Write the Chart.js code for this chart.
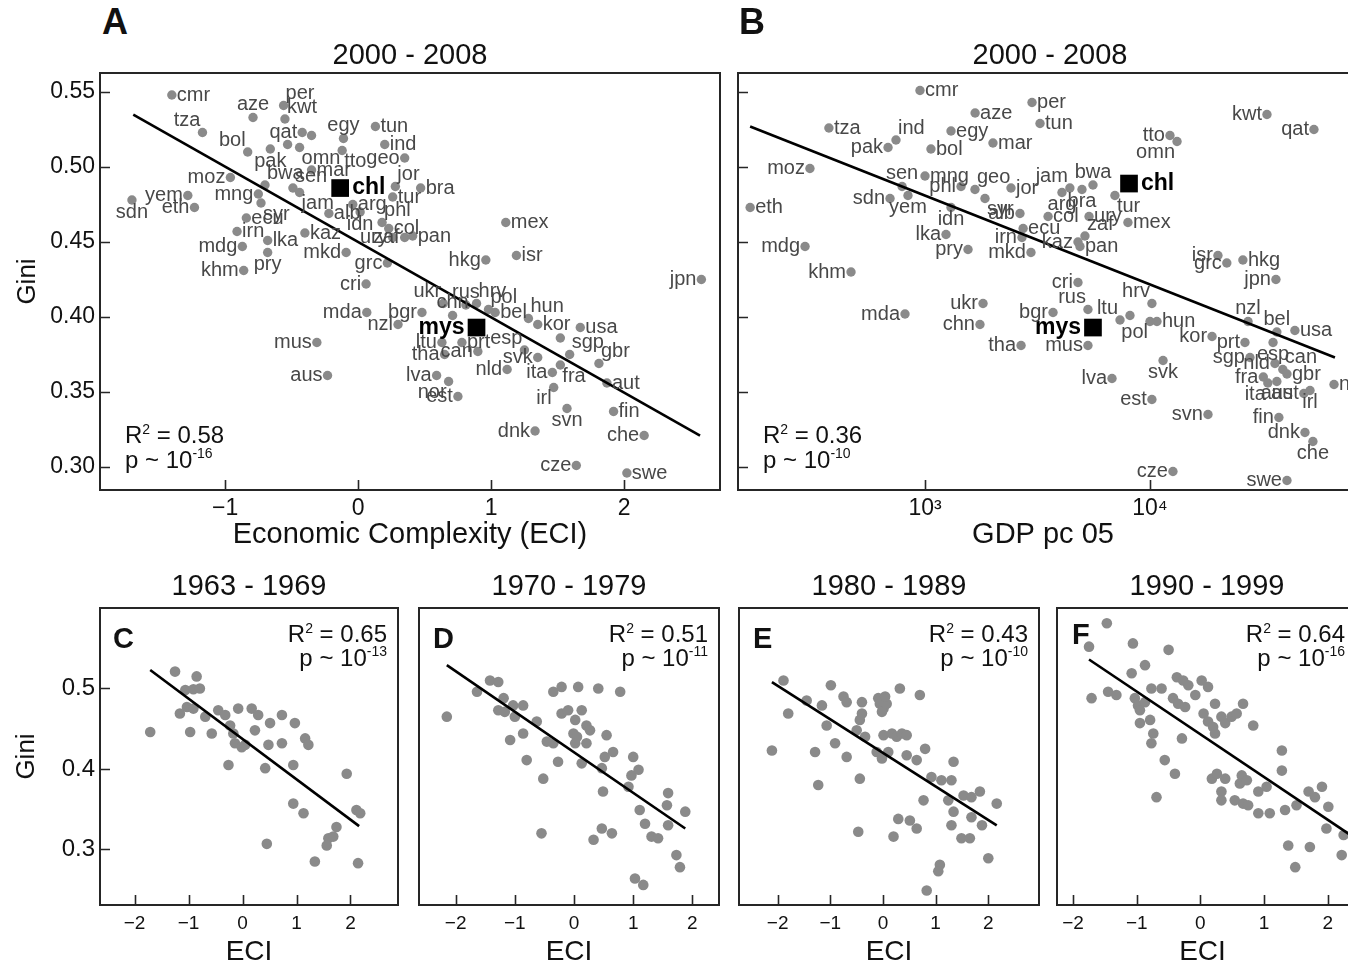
<!DOCTYPE html>
<html>
<head>
<meta charset="utf-8">
<title>Economic complexity and income inequality</title>
<script src="https://cdn.jsdelivr.net/npm/chart.js@4.4.1/dist/chart.umd.min.js"></script>
<style>
  html, body { margin: 0; padding: 0; background: #fff; width: 1348px; height: 964px; overflow: hidden; }
  body { position: relative; font-family: 'Liberation Sans', Arial, Helvetica, sans-serif; color: #111; }
  canvas { position: absolute; }
  .txt { position: absolute; white-space: nowrap; line-height: 1; }
  .period { font-size: 29px; width: 400px; text-align: center; }
  .letter { font-weight: bold; }
</style>
</head>
<body>
<script>
// ==================== DATA ====================
// Panel A: ECI vs Gini, 2000 - 2008
const codesA = ['cmr','tza','aze','per','kwt','qat','','egy','tun','ind',
  'bol','pak','','omn','tto','mar','geo','moz','bwa','sen',
  'jam','mng','syr','yem','sdn','eth','chl','ecu','alb','arg',
  'idn','tur','jor','bra','phl','col','ury','zaf','pan','irn',
  'lka','kaz','mdg','pry','mkd','khm','grc','cri','mda','nzl',
  'bgr','mus','aus','hkg','isr','mex','jpn','ukr','rus','hrv',
  'pol','bel','chn','mys','hun','kor','usa','','ltu','prt',
  'esp','tha','can','svk','sgp','lva','nor','est','nld','ita',
  'irl','fra','gbr','aut','fin','svn','dnk','che','cze','swe'];
const eciA = [-1.40,-1.17,-0.79,-0.56,-0.55,-0.42,-0.35,-0.11,0.13,0.20,
  -0.83,-0.66,-0.53,-0.44,-0.12,-0.35,0.35,-0.96,-0.70,-0.49,
  -0.44,-0.75,-0.73,-1.28,-1.70,-1.23,-0.135,-0.84,-0.22,-0.04,
  0.015,0.26,0.28,0.47,0.18,0.23,0.26,0.35,0.41,-0.91,
  -0.68,-0.40,-0.87,-0.68,-0.09,-0.86,0.22,0.06,0.065,0.30,
  0.48,-0.31,-0.23,0.96,1.19,1.11,2.58,0.64,0.81,0.89,
  0.98,1.03,0.71,0.89,1.28,1.35,1.67,1.52,0.63,0.78,
  1.25,0.65,0.90,1.35,1.59,0.59,0.68,0.75,1.12,1.46,
  1.47,1.52,1.81,1.87,1.92,1.57,1.33,2.15,1.64,2.02];
const giniA = [0.548,0.523,0.533,0.541,0.532,0.523,0.521,0.519,0.527,0.515,
  0.510,0.512,0.515,0.513,0.511,0.498,0.506,0.493,0.488,0.486,
  0.483,0.482,0.476,0.481,0.478,0.473,0.486,0.466,0.469,0.475,
  0.470,0.480,0.487,0.486,0.463,0.459,0.453,0.453,0.454,0.457,
  0.451,0.456,0.447,0.443,0.443,0.431,0.436,0.422,0.403,0.395,
  0.403,0.383,0.361,0.438,0.441,0.463,0.425,0.409,0.408,0.409,
  0.405,0.403,0.401,0.393,0.399,0.395,0.393,0.386,0.383,0.383,
  0.378,0.375,0.377,0.373,0.375,0.361,0.357,0.347,0.365,0.363,
  0.353,0.368,0.369,0.356,0.337,0.339,0.324,0.321,0.301,0.296];
// side of each country label: r, l, a(bove), b(elow), ar, al, br, bl
const sideA = ['r','al','a','ar','ar','l','','a','r','r',
  'al','b','','br','br','r','l','l','ar','ar',
  'br','l','br','l','b','l','r','r','r','r',
  'b','r','ar','r','ar','r','l','l','r','r',
  'r','r','l','b','l','l','l','l','l','l',
  'l','l','l','l','r','r','l','al','a','ar',
  'ar','r','a','l','ar','r','r','','l','r',
  'al','l','l','l','ar','l','bl','l','l','l',
  'bl','br','ar','r','r','b','l','l','l','r'];

// Panel B: GDP pc vs Gini, 2000 - 2008
const codesB = ['cmr','aze','per','tun','tza','ind','pak','egy','bol','mar',
  'moz','eth','sdn','sen','mng','yem','phl','geo','syr','jor',
  'idn','alb','lka','pry','irn','mkd','mdg','khm','ecu','col',
  'jam','arg','bra','bwa','tur','ury','mex','kaz','zaf','pan',
  'chl','tto','omn','kwt','qat','cri','isr','grc','hkg','jpn',
  'mda','ukr','chn','tha','bgr','rus','ltu','','hrv','pol',
  'hun','mys','mus','kor','svk','lva','est','svn','cze','nzl',
  'bel','usa','prt','esp','sgp','nld','can','fra','ita','aus',
  'gbr','aut','irl','nor','fin','dnk','che','swe'];
const gdpB = [950,1670,2990,3245,374,743,685,1305,1063,2005,
  308,167,699,791,1000,840,1446,1668,1848,2411,
  1305,2643,1240,1553,2698,2958,293,469,2730,3524,
  4406,4063,4986,5580,6985,5360,7980,4786,5140,4886,
  8070,12270,13190,33110,53560,4786,20050,21960,25880,36300,
  815,1811,1755,2673,3707,5300,7360,8150,10200,10000,
  10740,5580,5300,18880,11430,6780,10200,18110,12650,27280,
  36640,44070,26440,35240,27830,35940,38950,31900,33400,36640,
  40640,48300,51450,65770,37410,48860,52990,40640];
const giniB = [0.551,0.536,0.543,0.529,0.526,0.518,0.513,0.524,0.512,0.516,
  0.499,0.473,0.479,0.487,0.494,0.481,0.487,0.485,0.479,0.486,
  0.473,0.469,0.455,0.445,0.453,0.443,0.447,0.430,0.459,0.467,
  0.486,0.483,0.485,0.488,0.481,0.467,0.463,0.450,0.454,0.447,
  0.489,0.521,0.517,0.535,0.525,0.423,0.441,0.436,0.438,0.425,
  0.402,0.409,0.395,0.381,0.403,0.405,0.398,0.401,0.409,0.397,
  0.397,0.393,0.381,0.387,0.371,0.359,0.345,0.335,0.297,0.397,
  0.390,0.391,0.383,0.383,0.373,0.369,0.365,0.360,0.356,0.357,
  0.362,0.349,0.351,0.355,0.333,0.323,0.317,0.291];
const sideB = ['r','r','r','r','r','ar','l','r','r','r',
  'l','r','l','a','r','b','l','ar','br','r',
  'b','l','l','l','l','l','l','l','r','r',
  'al','b','b','a','br','r','r','l','ar','r',
  'r','l','bl','l','l','l','l','l','r','l',
  'l','l','l','l','l','al','al','','al','bl',
  'r','l','l','l','b','l','l','l','l','a',
  'a','r','l','b','l','l','ar','l','bl','b',
  'r','l','b','r','l','l','b','l'];

// Panels C-F: ECI vs Gini by decade (unlabelled)
const eciC = [-1.71,-1.25,-0.85,-1.06,-0.91,-0.79,-1.16,-1.03,-0.91,-0.97,
  -0.69,-0.57,-0.45,-0.32,-0.23,-0.17,-0.08,-0.14,-0.015,0.05,
  0.17,0.29,0.23,-0.26,0.42,0.48,0.51,0.73,0.73,0.97,
  0.94,1.16,1.22,0.94,1.13,0.45,1.93,2.11,2.18,1.74,
  1.59,1.68,1.56,1.34,2.14];
const giniC = [0.446,0.521,0.515,0.498,0.499,0.500,0.469,0.477,0.475,0.446,
  0.465,0.444,0.473,0.467,0.454,0.444,0.475,0.432,0.427,0.430,
  0.475,0.467,0.448,0.405,0.401,0.430,0.457,0.467,0.432,0.457,
  0.405,0.438,0.430,0.357,0.345,0.307,0.394,0.349,0.345,0.328,
  0.314,0.316,0.305,0.285,0.283];
const eciD = [-2.15,-1.64,-1.42,-1.28,-1.19,-1.28,-1.17,-1.03,-1.00,-0.86,
  -1.08,-0.86,-0.63,-0.80,-0.52,-0.55,-0.46,-0.35,-0.27,-0.35,
  -0.21,-0.21,-0.10,0.07,0.13,0.02,-0.01,0.05,0.02,0.21,
  0.27,0.21,0.13,0.41,0.78,0.55,0.52,0.66,0.47,0.49,
  0.47,0.33,0.64,1.00,0.97,1.09,0.92,1.11,1.20,1.31,
  1.42,1.59,1.57,1.59,1.88,1.73,1.79,1.03,1.17];
const giniD = [0.465,0.496,0.510,0.508,0.488,0.473,0.471,0.479,0.465,0.479,
  0.436,0.444,0.459,0.411,0.388,0.320,0.434,0.432,0.409,0.496,
  0.502,0.469,0.473,0.502,0.473,0.461,0.444,0.440,0.432,0.454,
  0.448,0.432,0.407,0.500,0.496,0.442,0.415,0.421,0.401,0.372,
  0.326,0.312,0.320,0.415,0.392,0.399,0.378,0.349,0.332,0.316,
  0.314,0.370,0.355,0.330,0.347,0.293,0.278,0.264,0.256];
const eciE = [-1.89,-2.11,-1.80,-1.45,-1.16,-1.29,-1.23,-1.07,-0.99,-0.91,
  -0.75,-0.69,-0.69,-0.50,-0.40,-0.40,-0.44,-0.47,-0.44,-0.34,
  -0.09,-0.06,0.01,-0.02,0.07,0.04,-0.12,-0.02,0.10,0.01,
  0.17,0.26,0.36,0.45,0.32,0.70,0.45,0.64,0.80,0.29,
  0.51,0.20,0.64,0.77,0.92,1.11,1.30,1.34,1.24,1.34,
  1.30,1.49,1.65,1.53,1.68,1.84,1.68,1.88,2.16,2.00,
  1.08,1.05,0.83];
const giniE = [0.510,0.423,0.469,0.485,0.479,0.421,0.380,0.454,0.504,0.432,
  0.490,0.483,0.415,0.448,0.483,0.469,0.461,0.322,0.388,0.440,
  0.488,0.481,0.475,0.471,0.481,0.490,0.421,0.413,0.421,0.442,
  0.444,0.440,0.444,0.442,0.500,0.492,0.417,0.411,0.425,0.338,
  0.336,0.316,0.326,0.361,0.390,0.386,0.386,0.409,0.361,0.347,
  0.330,0.314,0.314,0.367,0.365,0.372,0.340,0.330,0.357,0.289,
  0.281,0.273,0.249];
const eciF = [-1.47,-1.75,-1.06,-0.50,-0.87,-1.08,-1.71,-1.45,-1.32,-1.03,
  -0.98,-0.95,-0.87,-0.77,-0.61,-0.95,-0.79,-0.74,-0.77,-0.56,
  -0.40,-0.69,-0.37,-0.27,-0.19,-0.43,-0.35,-0.24,-0.08,0.02,
  0.12,-0.29,0.05,0.12,0.20,0.23,0.33,0.39,0.49,0.57,
  0.67,0.23,0.83,0.18,0.26,0.39,0.33,0.33,0.54,0.62,
  0.65,0.73,0.67,0.75,0.91,1.04,0.91,1.09,1.33,1.28,
  1.28,1.51,1.70,1.80,1.91,2.01,1.98,1.38,1.72,1.49,
  2.22,2.25,2.43];
const giniF = [0.581,0.552,0.556,0.548,0.529,0.519,0.488,0.496,0.492,0.488,
  0.479,0.473,0.483,0.500,0.500,0.457,0.461,0.444,0.432,0.411,
  0.394,0.365,0.514,0.510,0.504,0.488,0.481,0.477,0.492,0.510,
  0.502,0.438,0.469,0.459,0.452,0.444,0.465,0.457,0.465,0.469,
  0.481,0.481,0.454,0.388,0.394,0.388,0.372,0.361,0.361,0.382,
  0.392,0.386,0.357,0.355,0.372,0.378,0.345,0.345,0.349,0.423,
  0.398,0.355,0.372,0.365,0.378,0.353,0.326,0.305,0.303,0.278,
  0.293,0.318,0.378];

// regression lines (end points)
const fitXA = [-1.69, 2.57],  fitYA = [0.535, 0.321];
const fitXB = [167, 66400],   fitYB = [0.527, 0.373];
const fitXC = [-1.71, 2.16],  fitYC = [0.523, 0.329];
const fitXD = [-2.15, 1.88],  fitYD = [0.529, 0.326];
const fitXE = [-2.11, 2.16],  fitYE = [0.508, 0.330];
const fitXF = [-1.75, 2.45],  fitYF = [0.536, 0.313];

// fit statistics
const r2Vals = ['0.58', '0.36', '0.65', '0.51', '0.43', '0.64'];
const pExps  = ['-16', '-10', '-13', '-11', '-10', '-16'];

// titles and ticks
const periods = ['2000 - 2008', '2000 - 2008', '1963 - 1969', '1970 - 1979', '1980 - 1989', '1990 - 1999'];
const letters = ['A', 'B', 'C', 'D', 'E', 'F'];
const giniTicksTop = [0.30, 0.35, 0.40, 0.45, 0.50, 0.55];
const giniLabelsTop = ['0.30', '0.35', '0.40', '0.45', '0.50', '0.55'];
const eciTicksA = [-1, 0, 1, 2];
const eciLabelsA = ['\u22121', '0', '1', '2'];
const gdpTicks = [1000, 10000];
const gdpLabels = ['10\u00b3', '10\u2074'];
const giniTicksLow = [0.3, 0.4, 0.5];
const giniLabelsLow = ['0.3', '0.4', '0.5'];
const eciTicksLow = [-2, -1, 0, 1, 2];
const eciLabelsLow = ['\u22122', '\u22121', '0', '1', '2'];

const HILITE = ['chl', 'mys'];

// ==================== STYLE ====================
const FONT = "'Liberation Sans', Arial, Helvetica, sans-serif";
const DOT = '#8a8a8a';
const PAGE_W = 1348;

// ==================== PLUGINS ====================
// box around the plot area (right side left open when cut by the page) + inward ticks
const framePlugin = {
  id: 'frame',
  afterDraw(chart, args, o) {
    const { ctx, chartArea: a, scales } = chart;
    ctx.save();
    ctx.strokeStyle = '#262626';
    ctx.lineWidth = 2;
    ctx.beginPath();
    if (o.open) {
      ctx.moveTo(a.right + 2, a.top); ctx.lineTo(a.left, a.top);
      ctx.lineTo(a.left, a.bottom); ctx.lineTo(a.right + 2, a.bottom);
    } else {
      ctx.rect(a.left, a.top, a.right - a.left, a.bottom - a.top);
    }
    ctx.stroke();
    ctx.lineWidth = 1.6;
    ctx.beginPath();
    if (o.xTicks) scales.x.ticks.forEach(t => {
      const p = Math.round(scales.x.getPixelForValue(t.value)) + 0.5;
      ctx.moveTo(p, a.bottom); ctx.lineTo(p, a.bottom - 10);
    });
    if (o.yTicks) scales.y.ticks.forEach(t => {
      const p = Math.round(scales.y.getPixelForValue(t.value)) + 0.5;
      ctx.moveTo(a.left, p); ctx.lineTo(a.left + 10, p);
    });
    ctx.stroke();
    ctx.restore();
  }
};

// country codes next to their points
const codePlugin = {
  id: 'codes',
  afterDatasetsDraw(chart) {
    const ctx = chart.ctx;
    chart.data.datasets.forEach((ds, i) => {
      if (!ds.codes) return;
      const meta = chart.getDatasetMeta(i);
      ctx.save();
      ctx.font = (ds.labelBold ? 'bold ' : '') + ds.labelSize + 'px ' + FONT;
      ctx.fillStyle = ds.labelColor;
      meta.data.forEach((el, j) => {
        const code = ds.codes[j];
        if (!code) return;
        const g = ds.labelGap;
        let x = el.x, y = el.y, align = 'center', base = 'middle';
        switch (ds.sides[j]) {
          case 'r': x += g; align = 'left'; break;
          case 'l': x -= g; align = 'right'; break;
          case 'a': y -= g - 2; base = 'bottom'; break;
          case 'b': y += g - 3; base = 'top'; break;
          case 'ar': x += 2; y -= 2; align = 'left'; base = 'bottom'; break;
          case 'al': x -= 2; y -= 2; align = 'right'; base = 'bottom'; break;
          case 'br': x += 2; y += 1; align = 'left'; base = 'top'; break;
          case 'bl': x -= 2; y += 1; align = 'right'; base = 'top'; break;
        }
        ctx.textAlign = align;
        ctx.textBaseline = base;
        ctx.fillText(code, x, y);
      });
      ctx.restore();
    });
  }
};

// R^2 and p annotation
const statsPlugin = {
  id: 'stats',
  afterDraw(chart, args, o) {
    if (!o.r2) return;
    const ctx = chart.ctx, a = chart.chartArea;
    const rows = [
      [['R', 24, 0], ['2', 14, -9], [' = ' + o.r2, 24, 0]],
      [['p ~ 10', 24, 0], [o.p, 14, -10]]
    ];
    ctx.save();
    ctx.fillStyle = '#111';
    ctx.textAlign = 'left';
    ctx.textBaseline = 'alphabetic';
    rows.forEach((row, r) => {
      const widths = row.map(([t, s]) => { ctx.font = s + 'px ' + FONT; return ctx.measureText(t).width; });
      const total = widths.reduce((p, c) => p + c, 0);
      let x = o.corner === 'bl' ? a.left + 25 : a.right - o.inset - total;
      const y = o.corner === 'bl' ? a.bottom - 47 + r * 25 : a.top + 34 + r * 24;
      row.forEach(([t, s, dy], k) => {
        ctx.font = s + 'px ' + FONT;
        ctx.fillText(t, x, y + dy);
        x += widths[k];
      });
    });
    ctx.restore();
  }
};

Chart.register(framePlugin, codePlugin, statsPlugin);

// ==================== HELPERS ====================
function pairs(xs, ys) {
  return xs.map((x, i) => ({ x: x, y: ys[i] }));
}

function fitSet(xs, ys) {
  return { data: pairs(xs, ys), showLine: true, borderColor: '#000', borderWidth: 2.6,
           pointRadius: 0, fill: false };
}

function dotSet(xs, ys, r) {
  return { data: pairs(xs, ys), pointRadius: r, backgroundColor: DOT, borderWidth: 0 };
}

function labelledSets(codes, xs, ys, sides) {
  const all = codes.map((c, i) => i);
  const hi = all.filter(i => HILITE.includes(codes[i]));
  const lo = all.filter(i => !HILITE.includes(codes[i]));
  const pick = (idx, arr) => idx.map(i => arr[i]);
  return [
    { data: pairs(pick(hi, xs), pick(hi, ys)), codes: pick(hi, codes), sides: pick(hi, sides),
      pointStyle: 'rect', pointRadius: 12.5, backgroundColor: '#000', borderWidth: 0,
      labelBold: true, labelSize: 23, labelColor: '#000', labelGap: 12 },
    { data: pairs(pick(lo, xs), pick(lo, ys)), codes: pick(lo, codes), sides: pick(lo, sides),
      pointRadius: 4.7, backgroundColor: DOT, borderWidth: 0,
      labelSize: 20, labelColor: '#484848', labelGap: 5 }
  ];
}

function axis(o) {
  const horiz = o.pos === 'bottom';
  return {
    type: o.type || 'linear',
    position: o.pos,
    bounds: 'data',
    min: o.min,
    max: o.max,
    grid: { display: false, drawTicks: false },
    border: { display: false },
    afterBuildTicks: s => { s.ticks = o.ticks.map(v => ({ value: v })); },
    afterFit: s => { if (horiz) s.height = o.size; else s.width = o.size; },
    ticks: {
      display: !!o.labels,
      autoSkip: false,
      maxRotation: 0,
      padding: o.pad || 5,
      color: '#111',
      font: { family: FONT, size: o.font || 22 },
      callback: (v, i) => (o.labels ? o.labels[i] : '')
    },
    title: {
      display: !!o.title,
      text: o.title || '',
      color: '#111',
      font: { family: FONT, size: o.titleSize || 26 },
      padding: horiz ? { top: 0, bottom: o.titlePad } : { top: o.titlePad, bottom: 0 }
    }
  };
}

// plot: pixel rectangle of the plotting area; wY/hX: axis band sizes
function panel(p) {
  const cx = p.plot.l - p.wY, cy = p.plot.t - p.pt;
  const cw = p.plot.r + p.pr - cx, ch = p.plot.b + p.hX - cy;
  const cv = document.createElement('canvas');
  cv.width = cw; cv.height = ch;
  cv.style.left = cx + 'px'; cv.style.top = cy + 'px';
  cv.style.width = cw + 'px'; cv.style.height = ch + 'px';
  document.body.appendChild(cv);
  return new Chart(cv, {
    type: 'scatter',
    data: { datasets: p.datasets },
    options: {
      responsive: false,
      animation: false,
      events: [],
      layout: { autoPadding: false, padding: { top: p.pt, right: p.pr, left: 0, bottom: 0 } },
      plugins: {
        legend: { display: false },
        tooltip: { enabled: false },
        frame: { xTicks: true, yTicks: p.yTicks, open: p.plot.r >= PAGE_W },
        stats: p.stats
      },
      scales: { x: p.x, y: p.y }
    }
  });
}

function addText(text, cls, left, top, size) {
  const d = document.createElement('div');
  d.className = 'txt ' + cls;
  d.textContent = text;
  d.style.left = left + 'px';
  d.style.top = top + 'px';
  if (size) d.style.fontSize = size + 'px';
  document.body.appendChild(d);
}

// ==================== BUILD ====================
// panels B and F run past the right edge of the page: their plot areas stop at the page edge
const plots = [
  { l: 100, t: 73, r: 720, b: 490 },
  { l: 738, t: 73, r: PAGE_W, b: 490 },
  { l: 100, t: 608, r: 398, b: 905 },
  { l: 419, t: 608, r: 719, b: 905 },
  { l: 739, t: 608, r: 1039, b: 905 },
  { l: 1057, t: 608, r: PAGE_W, b: 905 }
];
const titleCenters = [410, 1050, 249, 569, 889, 1207];

// Panel A
panel({
  plot: plots[0], wY: 100, hX: 70, pt: 30, pr: 5, yTicks: true,
  datasets: [fitSet(fitXA, fitYA)].concat(labelledSets(codesA, eciA, giniA, sideA)),
  stats: { r2: r2Vals[0], p: pExps[0], corner: 'bl' },
  x: axis({ pos: 'bottom', min: -1.94, max: 2.72, ticks: eciTicksA, labels: eciLabelsA, size: 70,
            font: 23, pad: 5, title: 'Economic Complexity (ECI)', titleSize: 29, titlePad: 8 }),
  y: axis({ pos: 'left', min: 0.2847, max: 0.5627, ticks: giniTicksTop, labels: giniLabelsTop, size: 100,
            font: 23, pad: 5, title: 'Gini', titleSize: 26, titlePad: 12 })
});

// Panel B (log axis, visible part ends at the page edge)
panel({
  plot: plots[1], wY: 10, hX: 70, pt: 30, pr: 0, yTicks: true,
  datasets: [fitSet(fitXB, fitYB)].concat(labelledSets(codesB, gdpB, giniB, sideB)),
  stats: { r2: r2Vals[1], p: pExps[1], corner: 'bl' },
  x: axis({ pos: 'bottom', type: 'logarithmic', min: 147.5, max: 75900, ticks: gdpTicks, labels: gdpLabels,
            size: 70, font: 23, pad: 5, title: 'GDP pc 05', titleSize: 29, titlePad: 8 }),
  y: axis({ pos: 'left', min: 0.2847, max: 0.5627, ticks: giniTicksTop, size: 10 })
});

// Panels C-F
const lowSets = [[eciC, giniC, fitXC, fitYC, -2.64, 2.88],
                 [eciD, giniD, fitXD, fitYD, -2.62, 2.45],
                 [eciE, giniE, fitXE, fitYE, -2.735, 2.963],
                 [eciF, giniF, fitXF, fitYF, -2.253, 2.319]];
lowSets.forEach(([xs, ys, fx, fy, xmin, xmax], k) => {
  const first = k === 0, last = k === 3;
  panel({
    plot: plots[k + 2], wY: first ? 100 : 10, hX: 70, pt: 30, pr: last ? 0 : 5, yTicks: first,
    datasets: [fitSet(fx, fy), dotSet(xs, ys, 5.3)],
    stats: { r2: r2Vals[k + 2], p: pExps[k + 2], corner: 'tr', inset: last ? 3 : 11 },
    x: axis({ pos: 'bottom', min: xmin, max: xmax, ticks: eciTicksLow, labels: eciLabelsLow, size: 70,
              font: 19, pad: 7, title: 'ECI', titleSize: 28, titlePad: 6 }),
    y: axis({ pos: 'left', min: 0.231, max: 0.600, ticks: giniTicksLow, labels: first ? giniLabelsLow : null,
              size: first ? 100 : 10, font: 24, pad: 5, title: first ? 'Gini' : '', titleSize: 26, titlePad: 11 })
  });
});

// panel titles and letters
titleCenters.forEach((c, i) => addText(periods[i], 'period', c - 200, i < 2 ? 40 : 571));
addText(letters[0], 'letter', 102, 4, 36);
addText(letters[1], 'letter', 739, 4, 36);
[113, 433, 753, 1072].forEach((x, k) => addText(letters[k + 2], 'letter', x, k === 3 ? 620 : 624, 29));
</script>
</body>
</html>
